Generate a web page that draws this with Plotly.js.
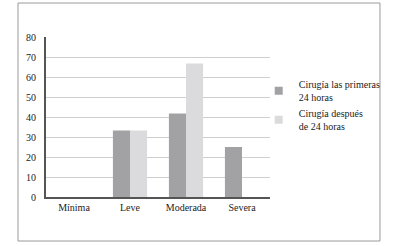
<!DOCTYPE html>
<html>
<head>
<meta charset="utf-8">
<script src="https://cdn.plot.ly/plotly-3.0.1.min.js"></script>
<style>html,body{margin:0;padding:0;background:#fff;}#chart{width:395px;height:246px;}</style>
</head>
<body>
<div id="chart"></div>
<script>
const categories = ["Mínima", "Leve", "Moderada", "Severa"];
const seriesNames = ["Cirugía las primeras<br>24 horas", "Cirugía después<br>de 24 horas"];
const seriesColors = ["#a2a2a4", "#dbdbdd"];
const within24 = [0, 33.3, 41.7, 25];
const after24 = [0, 33.3, 66.7, 0];
const yTicks = [0, 10, 20, 30, 40, 50, 60, 70, 80];

const font = {family: "Liberation Serif, Times New Roman, serif", size: 10, color: "#222"};

const traces = [
  {type: "bar", x: categories, y: within24, name: seriesNames[0], marker: {color: seriesColors[0]}, showlegend: false},
  {type: "bar", x: categories, y: after24, name: seriesNames[1], marker: {color: seriesColors[1]}, showlegend: false},
  {type: "scatter", mode: "markers", x: [categories[0]], y: [null], name: seriesNames[0],
   marker: {symbol: "square", size: 8, color: seriesColors[0]}, showlegend: true},
  {type: "scatter", mode: "markers", x: [categories[0]], y: [null], name: seriesNames[1],
   marker: {symbol: "square", size: 8, color: seriesColors[1]}, showlegend: true}
];

const layout = {
  width: 395, height: 246,
  margin: {l: 46, r: 125, t: 37, b: 49, pad: 0, autoexpand: false},
  paper_bgcolor: "#fff", plot_bgcolor: "#fff",
  font: font,
  barmode: "group", bargap: 0.39, bargroupgap: 0,
  showlegend: true,
  legend: {xref: "container", yref: "container", x: 0.655, y: 0.71, xanchor: "left", yanchor: "top",
           font: {family: font.family, size: 10, color: "#222"},
           itemwidth: 30, tracegroupgap: 11, traceorder: "normal", bgcolor: "rgba(0,0,0,0)"},
  xaxis: {type: "category", categoryarray: categories, showline: true, linecolor: "#555", linewidth: 2, showgrid: false,
          ticks: "", tickfont: font, fixedrange: true, automargin: false},
  yaxis: {range: [0, 80], tickvals: yTicks, ticktext: yTicks.map(String), showline: true, linecolor: "#555", linewidth: 2,
          showgrid: true, gridcolor: "#cfcfcf", gridwidth: 1, zeroline: false, ticks: "", tickfont: font,
          ticklabelstandoff: 6, automargin: false},
  shapes: [
    {type: "rect", xref: "paper", yref: "paper", x0: -0.125, x1: 1.491, y0: -0.275, y1: 1.2125,
     line: {color: "#9a9a9a", width: 1}, fillcolor: "rgba(0,0,0,0)", layer: "below"}
  ]
};

Plotly.newPlot("chart", traces, layout, {displayModeBar: false, staticPlot: true});
</script>
</body>
</html>
